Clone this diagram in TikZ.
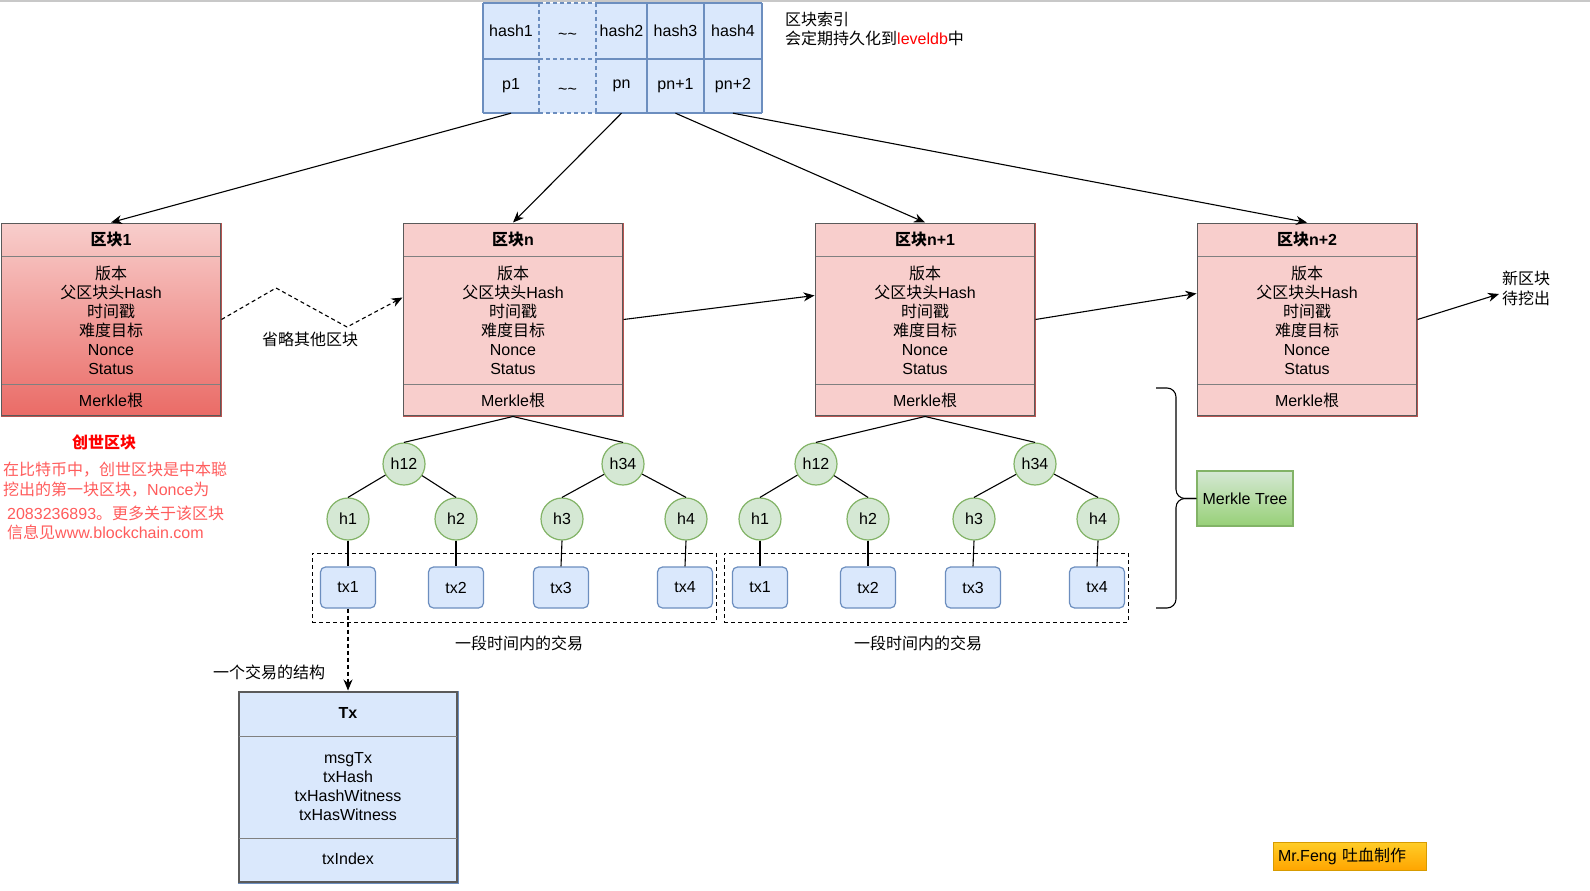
\documentclass[tikz,border=0pt]{standalone}
\usepackage{fontspec}
\setmainfont{Liberation Sans}
\newfontfamily\cjk{Noto Sans CJK SC}
\usetikzlibrary{arrows.meta,calc}
\definecolor{blueF}{HTML}{DAE8FC}
\definecolor{blueS}{HTML}{6C8EBF}
\definecolor{redF}{HTML}{F8CECC}
\definecolor{redG}{HTML}{EA6B66}
\definecolor{redS}{HTML}{B85450}
\definecolor{greenF}{HTML}{D5E8D4}
\definecolor{greenG}{HTML}{97D077}
\definecolor{greenS}{HTML}{82B366}
\definecolor{orangeF}{HTML}{FFCD28}
\definecolor{orangeG}{HTML}{FFA500}
\definecolor{orangeS}{HTML}{D79B00}
\definecolor{noteRed}{HTML}{FF5C5C}
\definecolor{innerGray}{HTML}{5A5A5A}
\definecolor{sepGray}{HTML}{808080}
\newcommand\C[1]{{\cjk #1}}
\newcommand\tld{\raisebox{-3pt}[11.5pt][0pt]{\textasciitilde\textasciitilde}}
\tikzset{
  every node/.style={font=\fontsize{16}{19}\selectfont, inner sep=0pt},
  blk/.style={draw=redS, line width=1pt, fill=redF, minimum width=220pt, minimum height=193pt},
  blkinner/.style={draw=innerGray, line width=1pt},
  seplne/.style={draw=sepGray, line width=0.8pt},
  hnode/.style={circle, draw=greenS, fill=greenF, line width=1.2pt, minimum size=42pt},
  txbox/.style={rectangle, rounded corners=5pt, draw=blueS, fill=blueF, line width=1.2pt, minimum width=55pt, minimum height=41pt},
  conn/.style={draw=black, line width=1.1pt},
  arr/.style={conn, -{Stealth[length=11pt, width=9pt, inset=3.5pt]}},
  dashedarr/.style={arr, dash pattern=on 4pt off 3pt},
  grpbox/.style={draw=black, line width=1pt, dash pattern=on 4pt off 3pt, minimum width=404pt, minimum height=69pt},
  tblline/.style={draw=blueS, line width=1.2pt},
  boldtxt/.style={font=\fontsize{16}{19}\selectfont\bfseries},
}
\newcommand\mkblock[4]{%
  \node[blk,#4] (#1) at (#2,319.5) {};
  \draw[blkinner] ([shift={(1.3pt,-1.3pt)}]#1.north west) rectangle ([shift={(-1.3pt,1.3pt)}]#1.south east);
  \draw[seplne] (#2-109,256) -- (#2+109,256);
  \draw[seplne] (#2-109,384) -- (#2+109,384);
  \node[boldtxt] (#1t) at (#2,240) {#3};
  \node[align=center] (#1b) at (#2,320.5) {\C{版本}\\\C{父区块头}Hash\\\C{时间戳}\\\C{难度目标}\\Nonce\\Status};
  \node (#1m) at (#2,400) {Merkle\C{根}};
}
\newcommand\mktree[4]{%
  \node[hnode] (#1h12) at (404+#2,464) {h12};
  \node[hnode] (#1h34) at (623+#2,464) {h34};
  \node[hnode] (#1h1) at (348+#2,519) {h1};
  \node[hnode] (#1h2) at (456+#2,519) {h2};
  \node[hnode] (#1h3) at (562+#2,519) {h3};
  \node[hnode] (#1h4) at (686+#2,519) {h4};
  \node[grpbox] (#1grp) at (514+#2,587.5) {};
  \node[txbox] (#1t1) at (348+#2,587.5) {tx1};
  \node[txbox] (#1t2) at (456+#2,587.5) {tx2};
  \node[txbox] (#1t3) at (561+#2,587.5) {tx3};
  \node[txbox] (#1t4) at (685+#2,587.5) {tx4};
  \draw[conn] (#3.south) -- (#1h12.north);
  \draw[conn] (#3.south) -- (#1h34.north);
  \draw[conn] (#1h12) -- (#1h1.north);
  \draw[conn] (#1h12) -- (#1h2.north);
  \draw[conn] (#1h34) -- (#1h3.north);
  \draw[conn] (#1h34) -- (#1h4.north);
  \draw[conn] (#1h1.south) -- (#1t1.north);
  \draw[conn] (#1h2.south) -- (#1t2.north);
  \draw[conn] (#1h3.south) -- (#1t3.north);
  \draw[conn] (#1h4.south) -- (#1t4.north);
  \node (#1lbl) at (#4,643) {\C{一段时间内的交易}};
}
\begin{document}
\begin{tikzpicture}[x=1pt,y=-1pt]
\useasboundingbox (0,0) rectangle (1590,891);
\fill[white] (0,0) rectangle (1590,891);
\draw[draw={rgb,255:red,200;green,200;blue,200}, line width=1.2pt] (0,1) -- (1590,1);

% index table
\fill[blueF] (483,3) rectangle (762,113);
\node[minimum width=56pt, minimum height=56pt] (c1) at (511,31) {hash1};
\node[minimum width=56pt, minimum height=56pt] (c2) at (567.5,31) {\tld};
\node[minimum width=50pt, minimum height=56pt] (c3) at (621.5,31) {hash2};
\node[minimum width=56pt, minimum height=56pt] (c4) at (675.5,31) {hash3};
\node[minimum width=56pt, minimum height=56pt] (c5) at (733,31) {hash4};
\node[minimum width=56pt, minimum height=54pt] (p1) at (511,86) {p1};
\node[minimum width=56pt, minimum height=54pt] (p2) at (567.5,86) {\tld};
\node[minimum width=50pt, minimum height=54pt] (p3) at (621.5,86) {pn};
\node[minimum width=56pt, minimum height=54pt] (p4) at (675.5,86) {pn+1};
\node[minimum width=56pt, minimum height=54pt] (p5) at (733,86) {pn+2};
\foreach \yy in {3,59,113} {
  \draw[tblline] (483,\yy) -- (539,\yy);
  \draw[tblline] (596,\yy) -- (762,\yy);
  \draw[tblline, dash pattern=on 4pt off 3pt] (539,\yy) -- (596,\yy);
}
\foreach \xx in {483,647,704,762} \draw[tblline] (\xx,3) -- (\xx,113);
\foreach \xx in {539,596} \draw[tblline, dash pattern=on 4pt off 3pt] (\xx,3) -- (\xx,113);
\node[anchor=west, align=left, font=\fontsize{16}{18.5}\selectfont] (idx) at (785,29)
  {\C{区块索引}\\\C{会定期持久化到}\textcolor{red}{leveldb}\C{中}};

% blocks
\mkblock{b1}{111}{\C{区块}1}{top color=redF, bottom color=redG}
\mkblock{bn}{513}{\C{区块}n}{}
\mkblock{bna}{925}{\C{区块}n+1}{}
\mkblock{bnb}{1307}{\C{区块}n+2}{}

% arrows from index
\draw[arr] (p1.south) -- (b1.north);
\draw[arr] (p3.south) -- (bn.north);
\draw[arr] (p4.south) -- (bna.north);
\draw[arr] (p5.south) -- (bnb.north);

% chain arrows
\coordinate (w1) at (276,288);
\coordinate (w2) at (347,327);
\draw[dashedarr] (b1.east) -- (w1) -- (w2) -- ([yshift=22pt]bn.west);
\node (omit) at (310,339) {\C{省略其他区块}};
\draw[arr] (bn.east) -- ([yshift=24pt]bna.west);
\draw[arr] (bna.east) -- ([yshift=26pt]bnb.west);
\node[anchor=west, align=left, font=\fontsize{16}{20}\selectfont] (newb) at (1502,288) {\C{新区块}\\\C{待挖出}};
\draw[arr] (bnb.east) -- ([xshift=-3pt,yshift=-6pt]newb.west);

% genesis note
\node[boldtxt, text=red] (gen) at (104,442) {\C{创世区块}};
\node[anchor=west, text=noteRed] (g1) at (3,470) {\C{在比特币中，创世区块是中本聪}};
\node[anchor=west, text=noteRed] (g2) at (3,490) {\C{挖出的第一块区块，}Nonce\C{为}};
\node[anchor=west, text=noteRed] (g3) at (7,513) {2083236893\C{。更多关于该区块}};
\node[anchor=west, text=noteRed] (g4) at (7,532) {\C{信息见}www.blockchain.com};

% merkle trees
\mktree{L}{0}{bn}{519}
\mktree{R}{412}{bna}{918}

% transaction structure
\node[draw=blueS, fill=blueF, line width=1pt, minimum width=220pt, minimum height=192pt] (Tx) at (348,787) {};
\draw[draw=innerGray, line width=1.4pt] ([shift={(1.4pt,-1.4pt)}]Tx.north west) rectangle ([shift={(-1.4pt,1.4pt)}]Tx.south east);
\draw[seplne] (239,736) -- (457,736);
\draw[seplne] (239,838) -- (457,838);
\node[boldtxt] (Txt) at (348,713) {Tx};
\node[align=center] (Txb) at (348,786.5) {msgTx\\txHash\\txHashWitness\\txHasWitness};
\node (Txi) at (348,859) {txIndex};
\draw[dashedarr] (Lt1.south) -- (Tx.north);
\node (txl) at (269,672) {\C{一个交易的结构}};

% merkle tree brace
\node[draw=greenS, line width=1.2pt, top color=greenF, bottom color=greenG, minimum width=96pt, minimum height=55pt] (mt) at (1245,498.5) {Merkle Tree};
\coordinate (brT) at (1156,388);
\coordinate (brB) at (1156,608);
\draw[conn, rounded corners=9pt] (brT) -- (1176,388) -- (1176,498.5) -- (mt.west);
\draw[conn, rounded corners=9pt] (brB) -- (1176,608) -- (1176,498.5) -- (mt.west);

% signature
\node[draw=orangeS, line width=1pt, top color=orangeF, bottom color=orangeG, minimum width=153pt, minimum height=28pt, text width=143pt, align=left] (mf) at (1349.5,856) {Mr.Feng \C{吐血制作}};
\end{tikzpicture}
\end{document}
